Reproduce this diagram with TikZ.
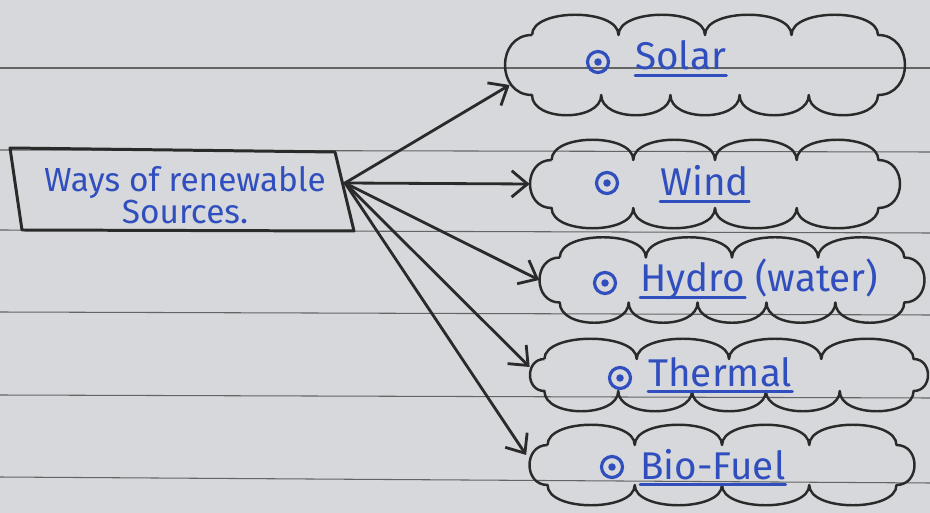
\documentclass[tikz,border=0pt]{standalone}
\usepackage{fontspec}
\setmainfont{Fira Sans}
\usetikzlibrary{arrows.meta,calc}
\definecolor{paper}{RGB}{214,216,219}
\definecolor{ink}{RGB}{48,78,190}
\definecolor{pen}{RGB}{42,42,42}
\definecolor{rule}{RGB}{100,100,100}
\newcommand\puffcloud[7]{%
 \pgfmathsetmacro\pcB{27}%
 \pgfmathsetmacro\pch{#5-40}%
 \pgfmathsetmacro\pck{0.6*\pch}%
 \pgfmathsetmacro\pcw{#4-1.5*\pck}%
 \pgfmathsetmacro\pcx{#2-\pcw/2}%
 \pgfmathsetmacro\pcy{#3-\pch/2}%
 \pgfmathsetmacro\pcst{\pcw/#6}%
 \pgfmathsetmacro\pcsb{\pcw/#7}%
 \pgfmathsetmacro\pcnw{#4*0.02}\pgfmathsetmacro\pcnh{#5*0.02}%
 \node[cloudholder,minimum width=\pcnw cm,minimum height=\pcnh cm] (#1) at (#2,#3) {};
 \draw[cloudline] (\pcx,\pcy) \foreach \i in {1,...,#6} { .. controls +(0,-\pcB) and +(0,-\pcB) .. ++(\pcst,0) }
   .. controls +(\pck,0) and +(\pck,0) .. ++(0,\pch)
   \foreach \i in {1,...,#7} { .. controls +(0,\pcB) and +(0,\pcB) .. ++(-\pcsb,0) }
   .. controls +(-\pck,0) and +(-\pck,0) .. (\pcx,\pcy);
}
\begin{document}
\begin{tikzpicture}[x=0.02cm,y=-0.02cm,
  ruleline/.style={draw=rule,line width=0.6pt},
  boxline/.style={draw=pen,line width=1.7pt,line join=round},
  srctext/.style={text=ink,font=\fontsize{19}{17}\selectfont,align=center,inner sep=0pt},
  cloudholder/.style={rectangle,inner sep=0pt,draw=none},
  cloudline/.style={draw=pen,line width=1.4pt,line join=round},
  item/.style={text=ink,font=\fontsize{22}{24}\selectfont,inner sep=0pt,anchor=base west},
  uline/.style={draw=ink,line width=1.6pt,line cap=round},
  bul/.style={circle,draw=ink,line width=1.8pt,minimum size=0.42cm,inner sep=0pt,
    path picture={\fill[ink] (path picture bounding box.center) circle (0.075cm);}},
  arr/.style={draw=pen,line width=1.6pt,line cap=round,-{Straight Barb[length=9pt,width=15pt,line width=1.6pt]}}]
\fill[paper] (0,0) rectangle (930,513);
\useasboundingbox (0,0) rectangle (930,513);
% ruled paper
\foreach \ya/\yb in {68/68,150/152,230/233,312/315,395/398,477/483}
  \draw[ruleline] (0,\ya) -- (930,\yb);
% source box
\coordinate (b1) at (10,148);
\coordinate (b2) at (335,152);
\coordinate (b3) at (354,231);
\coordinate (b4) at (22,230);
\draw[boxline] (b1) -- (b2) -- (b3) -- (b4) -- cycle;
\coordinate (hub) at (345,183);
\node[srctext] (src) at (185,195) {Ways of renewable\\Sources.};
% clouds
\puffcloud{c1}{705}{65}{400}{100}{4}{5}
\puffcloud{c2}{715}{184}{370}{88}{4}{4}
\puffcloud{c3}{732}{280}{385}{85}{4}{5}
\puffcloud{c4}{729}{375}{398}{72}{4}{5}
\puffcloud{c5}{722}{465}{385}{80}{4}{4}
% items
\node[bul] (d1) at (598,62) {};
\node[item] (t1) at (635,70) {Solar};
\draw[uline] ([yshift=-3pt]t1.base west) -- ([yshift=-3pt]t1.base east);
\node[bul] (d2) at (607,183) {};
\node[item] (t2) at (660,196) {Wind};
\draw[uline] ([yshift=-3pt]t2.base west) -- ([yshift=-3pt]t2.base east);
\node[bul] (d3) at (605,283) {};
\node[item] (t3) at (640,292) {Hydro};
\node[item] (t3b) at (755,292) {(water)};
\draw[uline] ([yshift=-3pt]t3.base west) -- ([yshift=-3pt]t3.base east);
\node[bul] (d4) at (620,378) {};
\node[item] (t4) at (648,386) {Thermal};
\draw[uline] ([yshift=-3pt]t4.base west) -- ([yshift=-3pt]t4.base east);
\node[bul] (d5) at (612,467) {};
\node[item] (t5) at (640,479) {Bio-Fuel};
\draw[uline] ([yshift=-3pt]t5.base west) -- ([yshift=-3pt]t5.base east);
% arrows
\draw[arr] (hub) -- ($(c1.west)+(5,20)$);
\draw[arr] (hub) -- (c2.west);
\draw[arr] (hub) -- (c3.west);
\draw[arr] (hub) -- ($(c4.west)+(0,-8)$);
\draw[arr] (hub) -- ($(c5.west)+(-3,-10)$);
\end{tikzpicture}
\end{document}
